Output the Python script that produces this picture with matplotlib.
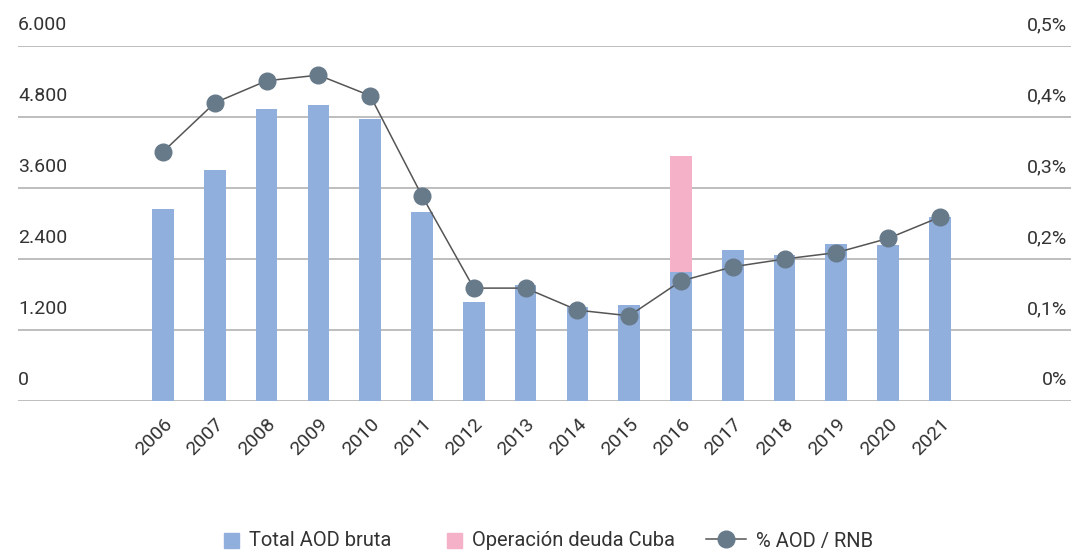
import numpy as np
import matplotlib.pyplot as plt
from matplotlib.lines import Line2D
from matplotlib.patches import Patch, Rectangle
from matplotlib.legend_handler import HandlerPatch
from matplotlib.transforms import offset_copy

plt.rcParams['font.family'] = ['Roboto', 'DejaVu Sans']

# --- data ---
years = ['2006', '2007', '2008', '2009', '2010', '2011', '2012', '2013',
         '2014', '2015', '2016', '2017', '2018', '2019', '2020', '2021']
aod_total = [3245, 3904, 4935, 5003, 4766, 3194, 1673, 1961,
             1589, 1623, 2185, 2552, 2468, 2654, 2637, 3110]
deuda_cuba = [0, 0, 0, 0, 0, 0, 0, 0, 0, 0, 1961, 0, 0, 0, 0, 0]
pct_aod_rnb = [0.351, 0.420, 0.451, 0.459, 0.430, 0.289, 0.159, 0.159,
               0.128, 0.120, 0.169, 0.189, 0.200, 0.209, 0.229, 0.259]

left_ticks = [0, 1200, 2400, 3600, 4800, 6000]
left_labels = ['0', '1.200', '2.400', '3.600', '4.800', '6.000']
right_ticks = [0, 0.1, 0.2, 0.3, 0.4, 0.5]
right_labels = ['0%', '0,1%', '0,2%', '0,3%', '0,4%', '0,5%']

c_blue = '#91afdc'
c_pink = '#f4b1c7'
c_mark = '#677a8a'
c_text = '#333333'
c_grid = '#b3b3b3'

fig = plt.figure(figsize=(10.73, 5.52), dpi=100)
ax = fig.add_axes([18 / 1073, 1 - 401 / 552, (1071 - 18) / 1073, (401 - 46) / 552])
x = np.arange(len(years))

ax.bar(x, aod_total, width=0.42, color=c_blue, zorder=2)
ax.bar(x, deuda_cuba, width=0.42, bottom=aod_total, color=c_pink, zorder=2)
ax.set_ylim(0, 6000)
ax.set_xlim(-2.80, 17.53)

for t in left_ticks:
    ax.axhline(t, color=c_grid, lw=1.2, zorder=1)

ax2 = ax.twinx()
ax2.plot(x, pct_aod_rnb, color='#555555', lw=1.1, marker='o', markersize=12,
         markerfacecolor=c_mark, markeredgecolor=c_mark, zorder=3)
ax2.set_ylim(0, 0.5)

for a in (ax, ax2):
    for s in a.spines.values():
        s.set_visible(False)
    a.set_yticks([])
    a.tick_params(length=0)

# y labels sit well above the gridlines
lt = offset_copy(ax.get_yaxis_transform(), fig=fig, y=12, units='dots')
rt = offset_copy(ax2.get_yaxis_transform(), fig=fig, y=12, units='dots')
for t, lab in zip(left_ticks, left_labels):
    ax.text(0.0, t, lab, transform=lt, ha='left', va='bottom', fontsize=14, color=c_text)
for t, lab in zip(right_ticks, right_labels):
    ax2.text(0.9965, t, lab, transform=rt, ha='right', va='bottom', fontsize=14, color=c_text)

ax.set_xticks(x)
ax.set_xticklabels(years, rotation=45, ha='right', rotation_mode='anchor',
                   fontsize=14, color=c_text)
ax.tick_params(axis='x', pad=10)


# square patch sitting at the right end of a wider handle box
def square_right(legend, orig_handle, xdescent, ydescent, width, height, fontsize):
    s = height * 1.05
    return Rectangle((width - s - xdescent, -ydescent - 0.1 * height), s, s)


handles = [
    Patch(color=c_blue, label='Total AOD bruta'),
    Patch(color=c_pink, label='Operación deuda Cuba'),
    Line2D([0], [0], color='#555555', lw=1.1, marker='o', markersize=12,
           markerfacecolor=c_mark, markeredgecolor=c_mark, label='% AOD / RNB'),
]
fig.legend(handles=handles, loc='center', bbox_to_anchor=(536 / 1073, 1 - 541 / 552),
           ncol=3, frameon=False, fontsize=14.5, handlelength=2.0, handleheight=0.7,
           columnspacing=1.5, handletextpad=0.5, labelcolor=c_text,
           handler_map={Patch: HandlerPatch(patch_func=square_right)})

fig.savefig('out.png', dpi=100)
